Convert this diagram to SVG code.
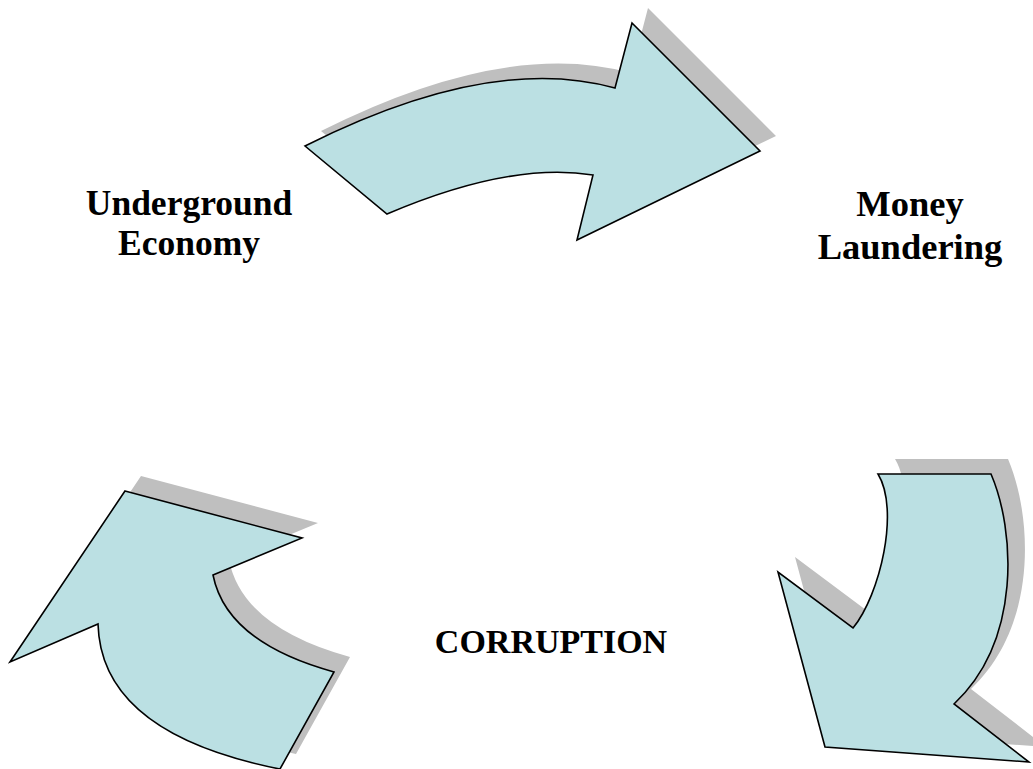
<svg xmlns="http://www.w3.org/2000/svg" width="1033" height="769" viewBox="0 0 1033 769">
  <defs>
    <style>
      .shadow { fill: #bfbfbf; stroke: none; }
      .arrow { fill: #bbe0e3; stroke: #000; stroke-width: 1.6; stroke-linejoin: miter; }
      .label { font-family: "Liberation Serif", "Times New Roman", serif; font-weight: bold; fill: #000; text-anchor: middle; }
    </style>
    <!-- curved block arrows -->
    <path id="arrowTop" d="M305,146 Q490,53 615,88 L632,23 L760,151 L577,240 L593,175 Q510,161.5 387,214 Z"/>
    <path id="arrowRight" d="M878,474 L991,474 C1015,530 1022,640 954,704 L1029,762 L825,747 L778,572 L853,628 C880,595 900,510 878,474 Z"/>
    <path id="arrowLeft" d="M125,491 L302,538 L213,575 Q226.5,642.5 334,672 L280,769 Q101,733.5 98,624 L10,662 Z"/>
  </defs>

  <g id="connectors">
    <g id="edge-underground-money">
      <use href="#arrowTop" class="shadow" transform="translate(16,-15)"/>
      <use href="#arrowTop" class="arrow"/>
    </g>
    <g id="edge-money-corruption">
      <use href="#arrowRight" class="shadow" transform="translate(17,-15)"/>
      <use href="#arrowRight" class="arrow"/>
    </g>
    <g id="edge-corruption-underground">
      <use href="#arrowLeft" class="shadow" transform="translate(16,-15)"/>
      <use href="#arrowLeft" class="arrow"/>
    </g>
  </g>

  <g id="node-underground">
    <text class="label" font-size="35.5" x="189" y="215">Underground</text>
    <text class="label" font-size="35.5" x="189" y="255">Economy</text>
  </g>
  <g id="node-money">
    <text class="label" font-size="36.5" x="910" y="216">Money</text>
    <text class="label" font-size="36.5" x="910" y="259">Laundering</text>
  </g>
  <g id="node-corruption">
    <text class="label" font-size="34" x="551" y="653">CORRUPTION</text>
  </g>
</svg>
